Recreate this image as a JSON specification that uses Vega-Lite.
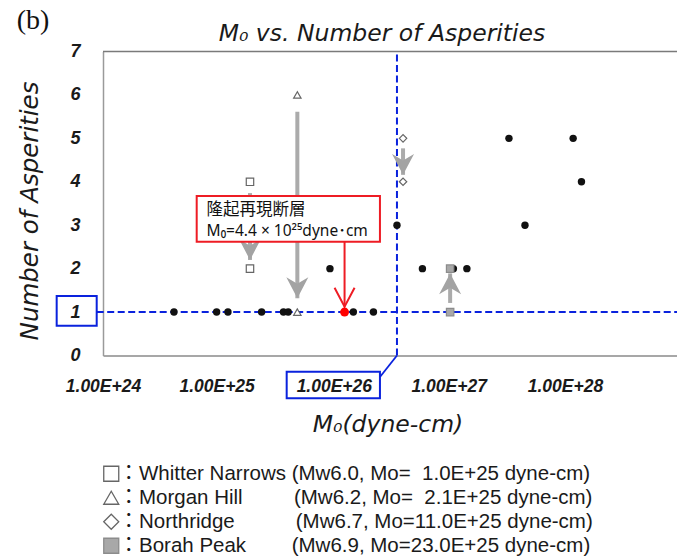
{
  "$schema": "https://vega.github.io/schema/vega-lite/v6.json",
  "width": 574,
  "height": 304,
  "autosize": {"type": "none"},
  "padding": {"left": 103, "top": 51.5, "right": 0, "bottom": 201.5},
  "background": "white",
  "config": {"view": {"stroke": null}},
  "title": {
    "text": "M₀ vs. Number of Asperities",
    "font": "DejaVu Sans",
    "fontSize": 23.5,
    "fontStyle": "italic",
    "fontWeight": "normal",
    "color": "#1a1a1a",
    "anchor": "middle",
    "frame": "group",
    "dx": -8,
    "baseline": "alphabetic",
    "offset": -57
  },
  "datasets": {
    "events": [
      {"m0": 3.04e24, "n": 1}, {"m0": 5.93e24, "n": 1}, {"m0": 7.08e24, "n": 1},
      {"m0": 1.20e25, "n": 1}, {"m0": 1.69e25, "n": 1}, {"m0": 1.82e25, "n": 1},
      {"m0": 5.05e25, "n": 1}, {"m0": 6.92e25, "n": 1},
      {"m0": 3.50e25, "n": 2}, {"m0": 1.49e26, "n": 2}, {"m0": 2.42e26, "n": 2}, {"m0": 2.99e26, "n": 2},
      {"m0": 1.00e26, "n": 3}, {"m0": 7.43e26, "n": 3},
      {"m0": 1.80e27, "n": 4},
      {"m0": 5.78e26, "n": 5}, {"m0": 1.58e27, "n": 5}
    ],
    "special": [
      {"event": "Whitter Narrows", "m0": 1.0e25, "n": 4},
      {"event": "Whitter Narrows", "m0": 1.0e25, "n": 2},
      {"event": "Morgan Hill", "m0": 2.1e25, "n": 6},
      {"event": "Morgan Hill", "m0": 2.1e25, "n": 1},
      {"event": "Northridge", "m0": 1.1e26, "n": 5},
      {"event": "Northridge", "m0": 1.1e26, "n": 4},
      {"event": "Borah Peak", "m0": 2.3e26, "n": 2},
      {"event": "Borah Peak", "m0": 2.3e26, "n": 1}
    ],
    "arrows": [
      {"event": "Whitter Narrows", "m0": 1.0e25, "n": 3.74, "n2": 2.2},
      {"event": "Morgan Hill", "m0": 2.1e25, "n": 5.61, "n2": 1.32},
      {"event": "Northridge", "m0": 1.1e26, "n": 4.77, "n2": 4.16},
      {"event": "Borah Peak", "m0": 2.3e26, "n": 1.21, "n2": 1.89}
    ],
    "uplift": [{"m0": 4.4e25, "n": 1}],
    "note": [
      {"label": "隆起再現断層", "m0": 5.07e24, "n": 3.36}
    ],
    "note2": [
      {"label": "M₀=4.4 × 10²⁵dyne･cm", "m0": 5.07e24, "n": 2.87}
    ]
  },
  "layer": [
    {
      "data": {"values": [{}]},
      "mark": {"type": "rule", "color": "#7a7a7a", "strokeWidth": 1.5},
      "encoding": {
        "x": {"datum": 1e24, "type": "quantitative"},
        "x2": {"datum": 8.04e27},
        "y": {"datum": 7, "type": "quantitative"}
      }
    },
    {
      "data": {"values": [{}]},
      "mark": {"type": "rule", "color": "#0a22dd", "strokeWidth": 2, "strokeDash": [7, 3.5]},
      "encoding": {
        "x": {"datum": 9.06e23, "type": "quantitative"},
        "x2": {"datum": 8.04e27},
        "y": {"datum": 1, "type": "quantitative"}
      }
    },
    {
      "data": {"values": [{}]},
      "mark": {"type": "rule", "color": "#0a22dd", "strokeWidth": 2, "strokeDash": [7, 3.5]},
      "encoding": {
        "x": {"datum": 1e26, "type": "quantitative"},
        "y": {"datum": 0, "type": "quantitative"},
        "y2": {"datum": 7}
      }
    },
    {
      "data": {"values": [{}]},
      "mark": {"type": "rule", "color": "#0a22dd", "strokeWidth": 1.8},
      "encoding": {
        "x": {"datum": 7.66e25, "type": "quantitative"},
        "y": {"datum": -0.495, "type": "quantitative"},
        "x2": {"datum": 1e26},
        "y2": {"datum": 0}
      }
    },
    {
      "data": {"name": "arrows"},
      "mark": {"type": "rule", "color": "#ababab", "strokeWidth": 4},
      "encoding": {
        "x": {"field": "m0", "type": "quantitative"},
        "y": {"field": "n", "type": "quantitative"},
        "y2": {"field": "n2"}
      }
    },
    {
      "data": {"name": "arrows"},
      "transform": [{"filter": "datum.n2 < datum.n"}],
      "mark": {"type": "point", "shape": "M0,0L-1,-1.9L0,-1.3L1,-1.9Z", "size": 484, "filled": true, "color": "#a3a3a3", "opacity": 1, "strokeWidth": 0},
      "encoding": {
        "x": {"field": "m0", "type": "quantitative"},
        "y": {"field": "n2", "type": "quantitative"}
      }
    },
    {
      "data": {"name": "arrows"},
      "transform": [{"filter": "datum.n2 > datum.n"}],
      "mark": {"type": "point", "shape": "M0,0L-1,-1.9L0,-1.3L1,-1.9Z", "size": 484, "angle": 180, "filled": true, "color": "#a3a3a3", "opacity": 1, "strokeWidth": 0},
      "encoding": {
        "x": {"field": "m0", "type": "quantitative"},
        "y": {"field": "n2", "type": "quantitative"}
      }
    },
    {
      "data": {"name": "events"},
      "mark": {"type": "circle", "color": "#111111", "size": 55, "opacity": 1},
      "encoding": {
        "x": {
          "field": "m0",
          "type": "quantitative",
          "scale": {"type": "log", "domain": [1e24, 8.04e27], "nice": false, "zero": false},
          "axis": {
            "title": "M₀(dyne-cm)",
            "titleFont": "DejaVu Sans",
            "titleFontSize": 23.5,
            "titleFontStyle": "italic",
            "titleFontWeight": "normal",
            "titleColor": "#1a1a1a",
            "titleX": 284.5,
            "titleY": 76,
            "titleBaseline": "alphabetic",
            "titleAlign": "center",
            "values": [1e24, 5.93e24, 3.72e25, 2.25e26, 1.39e27],
            "labelExpr": "datum.value < 2e24 ? '1.00E+24' : datum.value < 1e25 ? '1.00E+25' : datum.value < 1e26 ? '1.00E+26' : datum.value < 1e27 ? '1.00E+27' : '1.00E+28'",
            "labelFont": "Liberation Sans",
            "labelFontSize": 17.5,
            "labelFontWeight": "bold",
            "labelFontStyle": "italic",
            "labelColor": "#1a1a1a",
            "labelPadding": 22,
            "labelFlush": false,
            "labelOverlap": false,
            "labelBound": false,
            "ticks": false,
            "tickSize": 0,
            "grid": false,
            "domainColor": "#8a8a8a",
            "domainWidth": 1.5
          }
        },
        "y": {
          "field": "n",
          "type": "quantitative",
          "scale": {"domain": [0, 7], "nice": false},
          "axis": {
            "title": "Number of Asperities",
            "titleFont": "DejaVu Sans",
            "titleFontSize": 24.5,
            "titleFontStyle": "italic",
            "titleFontWeight": "normal",
            "titleColor": "#1a1a1a",
            "titleX": -65.5,
            "titleY": 159,
            "titleBaseline": "alphabetic",
            "titleAlign": "center",
            "titleAngle": -90,
            "values": [0, 1, 2, 3, 4, 5, 6, 7],
            "format": "d",
            "labelFont": "Liberation Sans",
            "labelFontSize": 18,
            "labelFontWeight": "bold",
            "labelFontStyle": "italic",
            "labelColor": "#1a1a1a",
            "labelPadding": 23,
            "ticks": false,
            "tickSize": 0,
            "grid": false,
            "domainColor": "#9a9a9a",
            "domainWidth": 1.5
          }
        }
      }
    },
    {
      "data": {"name": "special"},
      "mark": {"type": "point", "size": 55, "strokeWidth": 1.2, "opacity": 1, "filled": true},
      "encoding": {
        "x": {"field": "m0", "type": "quantitative"},
        "y": {"field": "n", "type": "quantitative"},
        "shape": {
          "field": "event", "type": "nominal",
          "scale": {"domain": ["Whitter Narrows", "Morgan Hill", "Northridge", "Borah Peak"], "range": ["square", "triangle-up", "diamond", "square"]},
          "legend": {
            "title": null, "orient": "none", "legendX": -2, "legendY": 412, "direction": "vertical",
            "symbolSize": 225, "symbolStrokeWidth": 1.3,
            "labelFont": "Liberation Sans, Noto Sans CJK JP", "labelFontSize": 20.5, "labelColor": "#1a1a1a",
            "labelLimit": 700, "labelOffset": -3, "rowPadding": 3, "padding": 0,
            "labelExpr": "datum.label == 'Whitter Narrows' ? '：Whitter Narrows (Mw6.0, Mo=\u00a0\u00a01.0E+25 dyne-cm)' : datum.label == 'Morgan Hill' ? '：Morgan Hill\u00a0\u00a0\u00a0\u00a0\u00a0\u00a0\u00a0\u00a0\u00a0(Mw6.2, Mo=\u00a0\u00a02.1E+25 dyne-cm)' : datum.label == 'Northridge' ? '：Northridge\u00a0\u00a0\u00a0\u00a0\u00a0\u00a0\u00a0\u00a0\u00a0\u00a0\u2009(Mw6.7, Mo=11.0E+25 dyne-cm)' : '：Borah Peak\u00a0\u00a0\u00a0\u00a0\u00a0\u00a0\u00a0\u00a0(Mw6.9, Mo=23.0E+25 dyne-cm)'"
          }
        },
        "fill": {
          "field": "event", "type": "nominal",
          "scale": {"domain": ["Whitter Narrows", "Morgan Hill", "Northridge", "Borah Peak"], "range": ["#ffffff", "#ffffff", "#ffffff", "#a8a8a8"]},
          "legend": {
            "title": null, "orient": "none", "legendX": -2, "legendY": 412, "direction": "vertical",
            "symbolSize": 225, "symbolStrokeWidth": 1.3,
            "labelFont": "Liberation Sans, Noto Sans CJK JP", "labelFontSize": 20.5, "labelColor": "#1a1a1a",
            "labelLimit": 700, "labelOffset": -3, "rowPadding": 3, "padding": 0,
            "labelExpr": "datum.label == 'Whitter Narrows' ? '：Whitter Narrows (Mw6.0, Mo=\u00a0\u00a01.0E+25 dyne-cm)' : datum.label == 'Morgan Hill' ? '：Morgan Hill\u00a0\u00a0\u00a0\u00a0\u00a0\u00a0\u00a0\u00a0\u00a0(Mw6.2, Mo=\u00a0\u00a02.1E+25 dyne-cm)' : datum.label == 'Northridge' ? '：Northridge\u00a0\u00a0\u00a0\u00a0\u00a0\u00a0\u00a0\u00a0\u00a0\u00a0\u2009(Mw6.7, Mo=11.0E+25 dyne-cm)' : '：Borah Peak\u00a0\u00a0\u00a0\u00a0\u00a0\u00a0\u00a0\u00a0(Mw6.9, Mo=23.0E+25 dyne-cm)'"
          }
        },
        "stroke": {
          "field": "event", "type": "nominal",
          "scale": {"domain": ["Whitter Narrows", "Morgan Hill", "Northridge", "Borah Peak"], "range": ["#666666", "#666666", "#666666", "#8c8c8c"]},
          "legend": {
            "title": null, "orient": "none", "legendX": -2, "legendY": 412, "direction": "vertical",
            "symbolSize": 225, "symbolStrokeWidth": 1.3,
            "labelFont": "Liberation Sans, Noto Sans CJK JP", "labelFontSize": 20.5, "labelColor": "#1a1a1a",
            "labelLimit": 700, "labelOffset": -3, "rowPadding": 3, "padding": 0,
            "labelExpr": "datum.label == 'Whitter Narrows' ? '：Whitter Narrows (Mw6.0, Mo=\u00a0\u00a01.0E+25 dyne-cm)' : datum.label == 'Morgan Hill' ? '：Morgan Hill\u00a0\u00a0\u00a0\u00a0\u00a0\u00a0\u00a0\u00a0\u00a0(Mw6.2, Mo=\u00a0\u00a02.1E+25 dyne-cm)' : datum.label == 'Northridge' ? '：Northridge\u00a0\u00a0\u00a0\u00a0\u00a0\u00a0\u00a0\u00a0\u00a0\u00a0\u2009(Mw6.7, Mo=11.0E+25 dyne-cm)' : '：Borah Peak\u00a0\u00a0\u00a0\u00a0\u00a0\u00a0\u00a0\u00a0(Mw6.9, Mo=23.0E+25 dyne-cm)'"
          }
        }
      }
    },
    {
      "data": {"values": [{}]},
      "mark": {"type": "rect", "filled": false, "color": "#0a22dd", "strokeWidth": 2},
      "encoding": {
        "x": {"datum": 4.84e23, "type": "quantitative"},
        "x2": {"datum": 9.06e23},
        "y": {"datum": 1.37, "type": "quantitative"},
        "y2": {"datum": 0.686}
      }
    },
    {
      "data": {"values": [{}]},
      "mark": {"type": "rect", "filled": false, "color": "#0a22dd", "strokeWidth": 2},
      "encoding": {
        "x": {"datum": 1.777e25, "type": "quantitative"},
        "x2": {"datum": 7.66e25},
        "y": {"datum": -0.373, "type": "quantitative"},
        "y2": {"datum": -0.986}
      }
    },
    {
      "data": {"values": [{}]},
      "mark": {"type": "rect", "fill": "#ffffff", "stroke": "#ee1c24", "strokeWidth": 2},
      "encoding": {
        "x": {"datum": 4.34e24, "type": "quantitative"},
        "x2": {"datum": 7.66e25},
        "y": {"datum": 3.673, "type": "quantitative"},
        "y2": {"datum": 2.62}
      }
    },
    {
      "data": {"name": "note"},
      "mark": {"type": "text", "align": "left", "baseline": "middle", "font": "Noto Sans CJK JP", "fontSize": 16.5, "color": "#111111"},
      "encoding": {
        "x": {"field": "m0", "type": "quantitative"},
        "y": {"field": "n", "type": "quantitative"},
        "text": {"field": "label"}
      }
    },
    {
      "data": {"name": "note2"},
      "mark": {"type": "text", "align": "left", "baseline": "middle", "font": "Noto Sans, Noto Sans CJK JP", "fontSize": 15.5, "color": "#111111"},
      "encoding": {
        "x": {"field": "m0", "type": "quantitative"},
        "y": {"field": "n", "type": "quantitative"},
        "text": {"field": "label"}
      }
    },
    {
      "data": {"values": [{}]},
      "mark": {"type": "rule", "color": "#ee1c24", "strokeWidth": 2},
      "encoding": {
        "x": {"datum": 4.4e25, "type": "quantitative"},
        "y": {"datum": 2.62, "type": "quantitative"},
        "y2": {"datum": 1.124}
      }
    },
    {
      "data": {"values": [{}]},
      "mark": {"type": "point", "shape": "M-1,-1.9L0,0L1,-1.9", "size": 400, "filled": false, "color": "#ee1c24", "strokeWidth": 2, "opacity": 1},
      "encoding": {
        "x": {"datum": 4.4e25, "type": "quantitative"},
        "y": {"datum": 1.124, "type": "quantitative"}
      }
    },
    {
      "data": {"name": "uplift"},
      "mark": {"type": "circle", "color": "#ff0000", "size": 80, "opacity": 1},
      "encoding": {
        "x": {"field": "m0", "type": "quantitative"},
        "y": {"field": "n", "type": "quantitative"}
      }
    },
    {
      "data": {"values": [{"label": "(b)"}]},
      "mark": {"type": "text", "align": "left", "baseline": "alphabetic", "font": "Liberation Serif", "fontSize": 28, "color": "#111111"},
      "encoding": {
        "x": {"datum": 2.59e23, "type": "quantitative"},
        "y": {"datum": 7.511, "type": "quantitative"},
        "text": {"field": "label"}
      }
    }
  ]
}
